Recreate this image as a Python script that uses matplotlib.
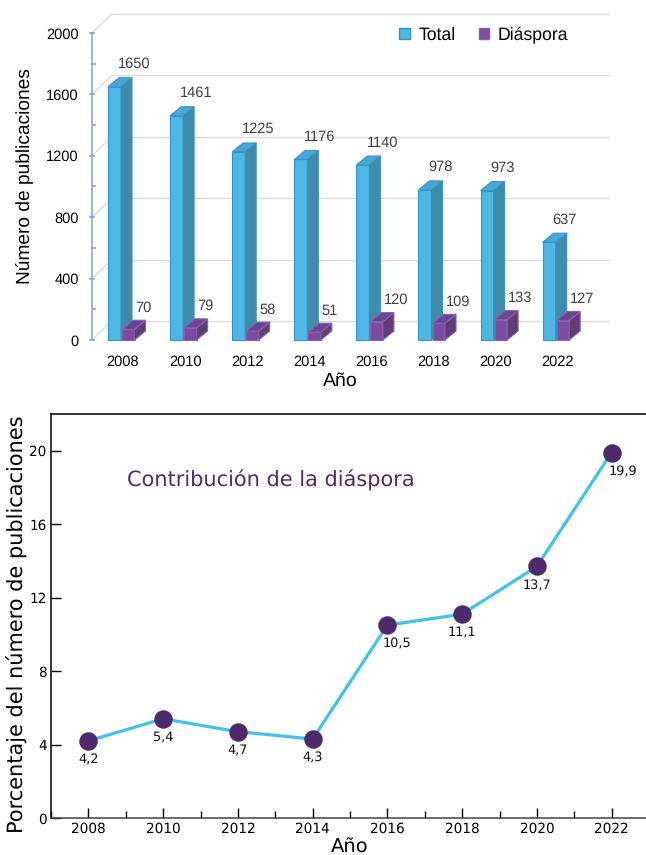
import matplotlib
matplotlib.use("Agg")
import matplotlib.pyplot as plt
from matplotlib.patches import Polygon, Patch
from matplotlib.ticker import MultipleLocator
import numpy as np

plt.rcParams["text.hinting"] = "no_hinting"

# ---------------- data ----------------
years = ["2008", "2010", "2012", "2014", "2016", "2018", "2020", "2022"]
total = [1650, 1461, 1225, 1176, 1140, 978, 973, 637]
diaspora = [70, 79, 58, 51, 120, 109, 133, 127]
year_nums = [2008, 2010, 2012, 2014, 2016, 2018, 2020, 2022]
pct = [4.2, 5.4, 4.7, 4.3, 10.5, 11.1, 13.7, 19.9]
pct_labels = ["4,2", "5,4", "4,7", "4,3", "10,5", "11,1", "13,7", "19,9"]

W, H = 646, 855
fig = plt.figure(figsize=(W / 100, H / 100), dpi=100)

# ---------------- top chart (pseudo-3D bars) ----------------
ARIAL = ["Liberation Sans", "DejaVu Sans"]
px_per_cat = 62.1
px_per_val = 0.1535
ax_l, ax_r, ax_t, ax_b = 92, 620, 5, 345
ax1 = fig.add_axes([ax_l / W, 1 - ax_b / H, (ax_r - ax_l) / W, (ax_b - ax_t) / H])
y0_px = 340  # pixel row of value 0
ax1.set_ylim((y0_px - ax_b) / px_per_val, (y0_px - ax_t) / px_per_val)
ax1.set_xlim((ax_l - 121) / px_per_cat, (ax_r - 121) / px_per_cat)

def dxp(p):
    return p / px_per_cat

def dyp(p):
    return p / px_per_val

# back wall gridlines + side wall diagonals
wall_dx, wall_dy = dxp(20), dyp(19)
x_axis = ax1.get_xlim()[0]
for v in range(0, 2001, 400):
    ax1.plot([x_axis + wall_dx, dxp(609 - 121)], [v + wall_dy, v + wall_dy],
             color="#DCDCDC", lw=1.0, zorder=1)
    ax1.plot([x_axis, x_axis + wall_dx], [v, v + wall_dy],
             color="#DCDCDC", lw=1.0, zorder=1)

bw_t = dxp(13)
bw_d = dxp(12.5)
ddx, ddy = dxp(11), dyp(9)
xs = np.arange(len(years))

def bar3d(x0, w, h, front, side, top, edge):
    ax1.bar(x0, h, width=w, align="edge", color=front, edgecolor=edge,
            linewidth=0.8, zorder=3)
    ax1.add_patch(Polygon([[x0 + w, 0], [x0 + w + ddx, ddy], [x0 + w + ddx, h + ddy], [x0 + w, h]],
                          closed=True, facecolor=side, edgecolor=edge, lw=0.8, zorder=3))
    ax1.add_patch(Polygon([[x0, h], [x0 + ddx, h + ddy], [x0 + w + ddx, h + ddy], [x0 + w, h]],
                          closed=True, facecolor=top, edgecolor=edge, lw=0.8, zorder=3))

for i in xs:
    bar3d(i - bw_t, bw_t, total[i], "#4DB8E6", "#3F8CAA", "#4AA6D2", "#3493CC")
    bar3d(i + dxp(1), bw_d, diaspora[i], "#7B4CA2", "#5E3D78", "#6A4590", "#8A5FB0")
    ax1.text(i - dxp(3), total[i] + dyp(22.5), f"{total[i]}", ha="left", va="center",
             fontsize=10.5, color="#404040", family=ARIAL)
    ax1.text(i + dxp(14), diaspora[i] + dyp(21.5), f"{diaspora[i]}", ha="left", va="center",
             fontsize=10.5, color="#404040", family=ARIAL)

for s in ["top", "right", "bottom"]:
    ax1.spines[s].set_visible(False)
ax1.spines["left"].set_color("#8FA5D6")
ax1.spines["left"].set_linewidth(1.2)
ax1.spines["left"].set_bounds(0, 2000)
ax1.set_yticks(range(0, 2001, 400))
ax1.yaxis.set_minor_locator(MultipleLocator(200))
ax1.tick_params(axis="y", which="major", direction="inout", length=5, width=1.2,
                color="#8FA5D6", pad=7, labelsize=10.5)
ax1.tick_params(axis="y", which="minor", direction="in", length=3, width=1.2, color="#8FA5D6")
ax1.set_xticks(xs + dxp(2))
ax1.set_xticklabels(years)
ax1.tick_params(axis="x", length=0, pad=7, labelsize=10.5)
for lab in ax1.get_xticklabels() + ax1.get_yticklabels():
    lab.set_family(ARIAL)
ax1.set_ylabel("Número de publicaciones", fontsize=13.8, family=ARIAL)
ax1.yaxis.label.set_verticalalignment("center")
ax1.yaxis.set_label_coords(-(ax_l - 25) / (ax_r - ax_l), (ax_b - 176) / (ax_b - ax_t))
ax1.set_xlabel("Año", fontsize=14, family=ARIAL)
ax1.xaxis.set_label_coords((340 - ax_l) / (ax_r - ax_l), -(381 - ax_b) / (ax_b - ax_t))
ax1.xaxis.label.set_verticalalignment("center")

handles = [Patch(facecolor="#4DB8E6", edgecolor="#3493CC", label="Total"),
           Patch(facecolor="#7B4CA2", edgecolor="#8A5FB0", label="Diáspora")]
leg = ax1.legend(handles=handles, loc="center left", ncol=2, frameon=False,
                 bbox_to_anchor=((392 - ax_l) / (ax_r - ax_l), (ax_b - 35) / (ax_b - ax_t)),
                 handlelength=0.6, handleheight=0.6, handletextpad=0.5,
                 columnspacing=1.3, prop={"family": ARIAL, "size": 12.7}, borderaxespad=0)

# ---------------- bottom chart ----------------
b_l, b_r, b_t, b_b = 51, 649, 414, 818
ax2 = fig.add_axes([b_l / W, 1 - b_b / H, (b_r - b_l) / W, (b_b - b_t) / H])
ax2.set_xlim(2007, 2023)
ax2.set_ylim(0, 22)
ax2.plot(year_nums, pct, color="#41C1F1", lw=2.3, zorder=2)
ax2.plot(year_nums, pct, "o", color="#4E2A6C", ms=12.3, zorder=3)
x_shift = {"10,5": 10, "19,9": 11}
for xv, yv, lab in zip(year_nums, pct, pct_labels):
    ax2.annotate(lab, (xv, yv), xytext=(x_shift.get(lab, 0) * 0.72, -19 * 0.72),
                 textcoords="offset points", ha="center", va="center", fontsize=9.3,
                 color="#111111")
ax2.set_xticks(year_nums)
ax2.xaxis.set_minor_locator(MultipleLocator(1))
ax2.set_yticks(range(0, 21, 4))
ax2.tick_params(axis="both", which="major", direction="in", length=7, width=1, labelsize=9.8)
ax2.tick_params(axis="x", which="minor", direction="in", length=5, width=1)
ax2.tick_params(axis="y", which="major", pad=3)
ax2.tick_params(axis="x", which="major", pad=3)
for s in ax2.spines.values():
    s.set_linewidth(1.1)
ax2.spines["bottom"].set_color("#444444")
ax2.set_ylabel("Porcentaje del número de publicaciones", fontsize=15)
ax2.yaxis.label.set_verticalalignment("center")
ax2.yaxis.set_label_coords(-(b_l - 17) / (b_r - b_l), (b_b - 624) / (b_b - b_t))
ax2.set_xlabel("Año", fontsize=14)
ax2.xaxis.set_label_coords((350 - b_l) / (b_r - b_l), -(847 - b_b) / (b_b - b_t))
ax2.xaxis.label.set_verticalalignment("center")
ax2.text(2009.03, 18.4, "Contribución de la diáspora", fontsize=15, color="#4E2A74",
         ha="left", va="center")

fig.savefig("out.png", dpi=100)
